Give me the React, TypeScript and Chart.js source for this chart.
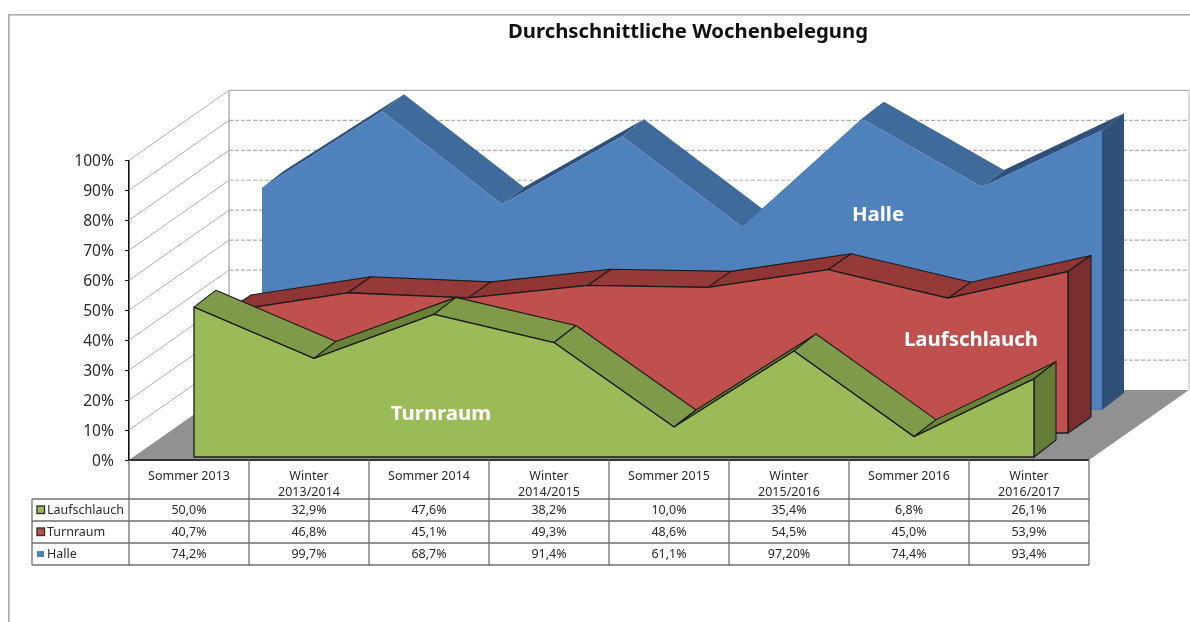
import React, { useEffect, useRef } from "react";
import { Chart, registerables } from "chart.js";

Chart.register(...registerables);

const categories: (string | string[])[] = [
  "Sommer 2013",
  ["Winter", "2013/2014"],
  "Sommer 2014",
  ["Winter", "2014/2015"],
  "Sommer 2015",
  ["Winter", "2015/2016"],
  "Sommer 2016",
  ["Winter", "2016/2017"],
];
const laufschlauch = [50.0, 32.9, 47.6, 38.2, 10.0, 35.4, 6.8, 26.1];
const turnraum = [40.7, 46.8, 45.1, 49.3, 48.6, 54.5, 45.0, 53.9];
const halle = [74.2, 99.7, 68.7, 91.4, 61.1, 97.2, 74.4, 93.4];
const halleText = ["74,2%", "99,7%", "68,7%", "91,4%", "61,1%", "97,20%", "74,4%", "93,4%"];
const pct = (v: number) => v.toFixed(1).replace(".", ",") + "%";

const FONT = '"Noto Sans"';
const TEXT = "#2b2b2b";
const GRID = "#adadad";
const TABLE = "#6f6f6f";

// drawing order: back to front; dataset index refers to the datasets below
const planes = [
  { ds: 2, dx: 73, dy: -50, depthX: 22, depthY: -17, face: "#4f81bd", fall: "#3f6a9c", rise: "#2e5079", side: "#2f5078", edge: null as string | null },
  { ds: 1, dx: 39, dy: -27, depthX: 23, depthY: -16, face: "#c0504d", fall: "#953a38", rise: "#8f3634", side: "#7a2e2d", edge: "#1a1a1a" },
  { ds: 0, dx: 5, dy: -3, depthX: 22, depthY: -17, face: "#9bbb59", fall: "#7f9a48", rise: "#6a8236", side: "#667d37", edge: "#1a1a1a" },
];

const inlineLabels = [
  { text: "Halle", x: 878, y: 215 },
  { text: "Laufschlauch", x: 971, y: 340 },
  { text: "Turnraum", x: 441, y: 414 },
];

function poly(ctx: CanvasRenderingContext2D, pts: number[][], fill: string | null, stroke: string | null, lw = 1.3) {
  ctx.beginPath();
  pts.forEach((p, i) => (i ? ctx.lineTo(p[0], p[1]) : ctx.moveTo(p[0], p[1])));
  ctx.closePath();
  if (fill) {
    ctx.fillStyle = fill;
    ctx.fill();
  }
  if (stroke) {
    ctx.strokeStyle = stroke;
    ctx.lineWidth = lw;
    ctx.lineJoin = "round";
    ctx.stroke();
  }
}

function line(ctx: CanvasRenderingContext2D, x1: number, y1: number, x2: number, y2: number, color: string, lw = 1, dash: number[] = []) {
  ctx.beginPath();
  ctx.setLineDash(dash);
  ctx.moveTo(x1, y1);
  ctx.lineTo(x2, y2);
  ctx.strokeStyle = color;
  ctx.lineWidth = lw;
  ctx.stroke();
  ctx.setLineDash([]);
}

const area3d = {
  id: "area3d",
  afterLayout(chart: any) {
    // centre the title over the plot like the reference (centre x = 688)
    const t = chart.titleBlock;
    t.left = 688 - 360;
    t.right = 688 + 360;
  },
  beforeDatasetsDraw(chart: any) {
    const { ctx, scales } = chart;
    const xs = scales.x;
    const ys = scales.y;
    const x0 = xs.left;
    const x1 = xs.right;
    const wx = 100;
    const wy = -70;
    const y0 = ys.getPixelForValue(0);
    const y100 = ys.getPixelForValue(100);
    ctx.save();
    // outer frame
    ctx.fillStyle = "#ababab";
    ctx.fillRect(8, 14, 1182, 1.6);
    ctx.fillRect(8, 14, 1.6, 608);
    // floor
    poly(ctx, [[x0, y0], [x0 + wx, y0 + wy], [x1 + wx, y0 + wy], [x1, y0]], "#919191", null);
    // walls
    (ys.ticks as any[]).forEach((t) => {
      const y = ys.getPixelForValue(t.value);
      if (t.value > 0) line(ctx, x0, y, x0 + wx, y + wy, GRID, 1);
      if (t.value > 0 && t.value < 100) line(ctx, x0 + wx, y + wy, x1 + wx, y + wy, GRID, 1.2, [4, 2]);
      if (t.value === 100) line(ctx, x0 + wx, y + wy, x1 + wx, y + wy, GRID, 1.2);
    });
    line(ctx, x0 + wx, y100 + wy, x0 + wx, y0 + wy, GRID, 1.4);
    line(ctx, x1 + wx, y100 + wy, x1 + wx, y0 + wy, "#c4c4c4", 1.2);

    // series
    planes.forEach((pl) => {
      const values: number[] = chart.data.datasets[pl.ds].data;
      const pts = values.map((v, i) => [xs.getPixelForValue(i) + pl.dx, ys.getPixelForValue(v) + pl.dy]);
      const base = y0 + pl.dy;
      const last = pts[pts.length - 1];
      // top surfaces
      for (let i = 0; i < pts.length - 1; i++) {
        const a = pts[i];
        const b = pts[i + 1];
        const rising = b[1] < a[1];
        poly(
          ctx,
          [a, b, [b[0] + pl.depthX, b[1] + pl.depthY], [a[0] + pl.depthX, a[1] + pl.depthY]],
          rising ? pl.rise : pl.fall,
          pl.edge,
          1.1
        );
      }
      // right side
      poly(
        ctx,
        [last, [last[0] + pl.depthX, last[1] + pl.depthY], [last[0] + pl.depthX, base + pl.depthY], [last[0], base]],
        pl.side,
        pl.edge,
        1.1
      );
      // front face
      poly(ctx, [[pts[0][0], base], ...pts, [last[0], base]], pl.face, pl.edge, 1.3);
    });
    ctx.restore();
  },
  afterDatasetsDraw(chart: any) {
    const { ctx, scales } = chart;
    const xs = scales.x;
    const ys = scales.y;
    const y0 = ys.getPixelForValue(0);
    ctx.save();
    // labels inside the areas
    ctx.fillStyle = "#ffffff";
    ctx.font = `bold 20.4px ${FONT}`;
    ctx.textAlign = "center";
    ctx.textBaseline = "middle";
    inlineLabels.forEach((l) => ctx.fillText(l.text, l.x, l.y));

    // front axis line
    line(ctx, xs.left, y0, xs.right, y0, "#333333", 2);

    // data table
    const rowY = [499, 521, 543, 565];
    const tableLeft = 32;
    const colCount = chart.data.labels.length;
    rowY.forEach((y) => line(ctx, tableLeft, y, xs.right, y, TABLE, 1.3));
    line(ctx, tableLeft, rowY[0], tableLeft, rowY[3], TABLE, 1.3);
    for (let i = 0; i <= colCount; i++) {
      const x = xs.left + ((xs.right - xs.left) / colCount) * i;
      line(ctx, x, y0, x, rowY[3], TABLE, 1.3);
    }
    const rows = [
      { name: "Laufschlauch", color: "#9bbb59", border: "#333333", texts: laufschlauch.map(pct) },
      { name: "Turnraum", color: "#c0504d", border: "#333333", texts: turnraum.map(pct) },
      { name: "Halle", color: "#4f81bd", border: null as string | null, texts: halleText },
    ];
    ctx.font = `12.5px ${FONT}`;
    ctx.textBaseline = "middle";
    rows.forEach((r, ri) => {
      const cy = (rowY[ri] + rowY[ri + 1]) / 2;
      if (r.border) {
        ctx.fillStyle = r.color;
        ctx.fillRect(37, cy - 4, 7.5, 7.5);
        ctx.strokeStyle = r.border;
        ctx.lineWidth = 1.4;
        ctx.strokeRect(37, cy - 4, 7.5, 7.5);
      } else {
        ctx.fillStyle = r.color;
        ctx.fillRect(37, cy - 3, 7, 6);
      }
      ctx.fillStyle = TEXT;
      ctx.textAlign = "left";
      ctx.fillText(r.name, 47, cy);
      ctx.textAlign = "center";
      r.texts.forEach((t, i) => ctx.fillText(t, xs.getPixelForValue(i), cy + 0.5));
    });
    ctx.restore();
  },
};

export default function App() {
  const ref = useRef<HTMLCanvasElement>(null);
  useEffect(() => {
    if (!ref.current) return;
    const chart = new Chart(ref.current, {
      type: "line",
      data: {
        labels: categories as any,
        datasets: [
          { label: "Laufschlauch", data: laufschlauch, backgroundColor: "#9bbb59", borderColor: "#9bbb59", showLine: false, pointRadius: 0 },
          { label: "Turnraum", data: turnraum, backgroundColor: "#c0504d", borderColor: "#c0504d", showLine: false, pointRadius: 0 },
          { label: "Halle", data: halle, backgroundColor: "#4f81bd", borderColor: "#4f81bd", showLine: false, pointRadius: 0 },
        ],
      },
      options: {
        responsive: false,
        animation: false,
        layout: { padding: { left: 0, right: 101, top: 0, bottom: 0 } },
        plugins: {
          legend: { display: false },
          tooltip: { enabled: false },
          title: {
            display: true,
            text: "Durchschnittliche Wochenbelegung",
            color: "#111111",
            font: { family: FONT, size: 20.3, weight: "bold" },
            padding: { top: 20, bottom: 116 },
          },
        },
        scales: {
          x: {
            type: "category",
            offset: true,
            afterFit: (s: any) => {
              s.height = 162;
            },
            grid: { display: false },
            border: { display: false },
            ticks: {
              autoSkip: false,
              maxRotation: 0,
              minRotation: 0,
              padding: 0,
              color: TEXT,
              font: { family: FONT, size: 12.5, lineHeight: 1.3 },
            },
          },
          y: {
            type: "linear",
            min: 0,
            max: 100,
            afterFit: (s: any) => {
              s.width = 129;
            },
            grid: { drawOnChartArea: false, drawTicks: true, tickLength: 4, color: "#222222" },
            border: { display: true, color: "#111111", width: 1.6 },
            ticks: {
              stepSize: 10,
              padding: 11,
              labelOffset: 1.5,
              color: TEXT,
              font: { family: FONT, size: 15.6 },
              callback: (v: any) => v + "%",
            },
          },
        },
      },
      plugins: [area3d],
    } as any);
    return () => chart.destroy();
  }, []);
  return (
    <div style={{ position: "absolute", left: 0, top: 0, width: 1190, height: 622, background: "#fff" }}>
      <canvas ref={ref} width={1190} height={622} style={{ display: "block", filter: "blur(0.45px)" }} />
    </div>
  );
}
